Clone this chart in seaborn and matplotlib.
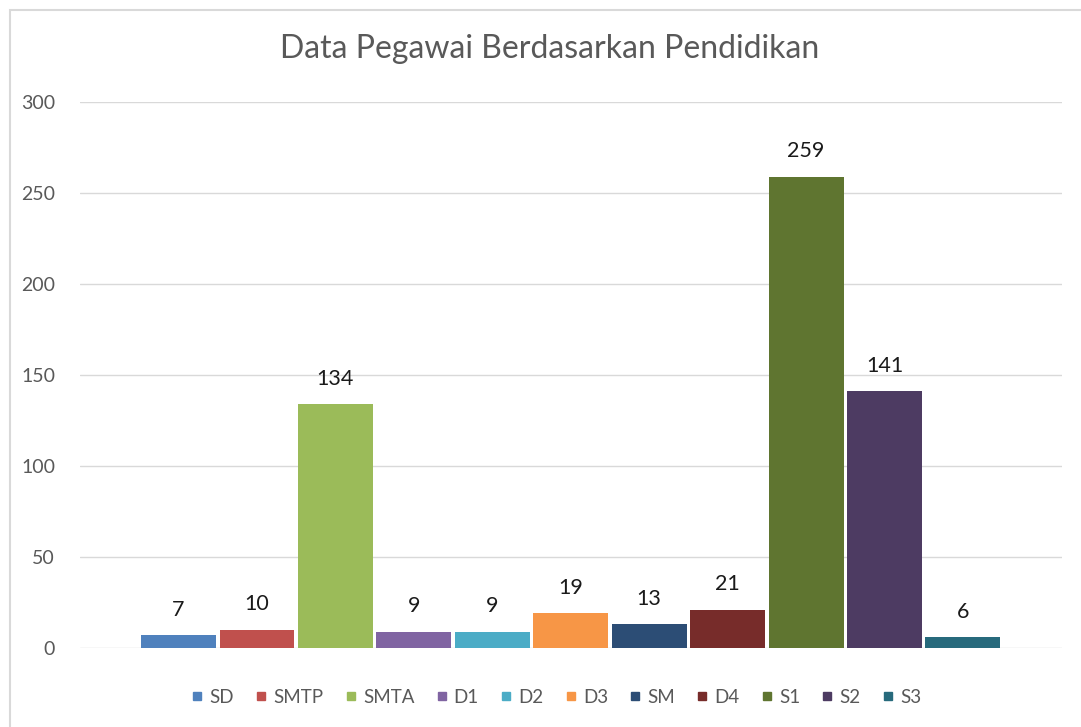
import matplotlib
matplotlib.use("Agg")
import matplotlib.pyplot as plt
import seaborn as sns
import pandas as pd
from matplotlib.patches import Rectangle
from matplotlib.lines import Line2D

series = ["SD", "SMTP", "SMTA", "D1", "D2", "D3", "SM", "D4", "S1", "S2", "S3"]
values = [7, 10, 134, 9, 9, 19, 13, 21, 259, 141, 6]
colors = ["#4F81BD", "#C0504D", "#9BBB59", "#8064A2", "#4BACC6", "#F79646",
          "#2C4D75", "#772C2A", "#5F7530", "#4D3B62", "#276A7C"]
yticks = [0, 50, 100, 150, 200, 250, 300]
title = "Data Pegawai Berdasarkan Pendidikan"

sns.set_theme(style="white")
plt.rcParams['font.family'] = ['Lato', 'DejaVu Sans']

df = pd.DataFrame({"cat": ["Pendidikan"] * len(series), "series": series, "value": values})

fig = plt.figure(figsize=(10.81, 7.27), dpi=100)
ax = fig.add_axes([0.074, 0.1087, 0.908, 0.751])

sns.barplot(data=df, x="cat", y="value", hue="series", hue_order=series,
            palette=colors, width=0.879, gap=0.045, ax=ax, legend=False,
            saturation=1, edgecolor="none")

for c in ax.containers:
    ax.bar_label(c, padding=11, fontsize=15.5, color="#1a1a1a")

ax.set_ylim(0, 300)
ax.set_xlim(-0.5, 0.5)
ax.set_yticks(yticks)
ax.set_yticklabels([str(v) for v in yticks], fontsize=14, color="#595959")
ax.tick_params(axis="y", length=0, pad=18)
ax.set_xticks([])
ax.set_xlabel("")
ax.set_ylabel("")
ax.yaxis.grid(True, color="#d9d9d9", linewidth=1)
ax.set_axisbelow(True)
for s in ax.spines.values():
    s.set_visible(False)

fig.text(0.508, 0.932, title, ha="center", va="center", fontsize=23, color="#595959")

handles = [Line2D([0], [0], marker="s", linestyle="none", markersize=5.5,
                  markerfacecolor=col, markeredgecolor=col) for col in colors]
fig.legend(handles, series, loc="center", bbox_to_anchor=(0.513, 0.041), ncol=len(series),
           frameon=False, fontsize=13.5, handletextpad=0.15, columnspacing=0.95,
           labelcolor="#595959", handlelength=1.0)

fig.patches.append(Rectangle((10 / 1081, -0.05), 1.2, 0.05 + 1 - 10 / 727,
                             transform=fig.transFigure, fill=False,
                             edgecolor="#d9d9d9", linewidth=1.5))

fig.savefig("out.png", dpi=100)
